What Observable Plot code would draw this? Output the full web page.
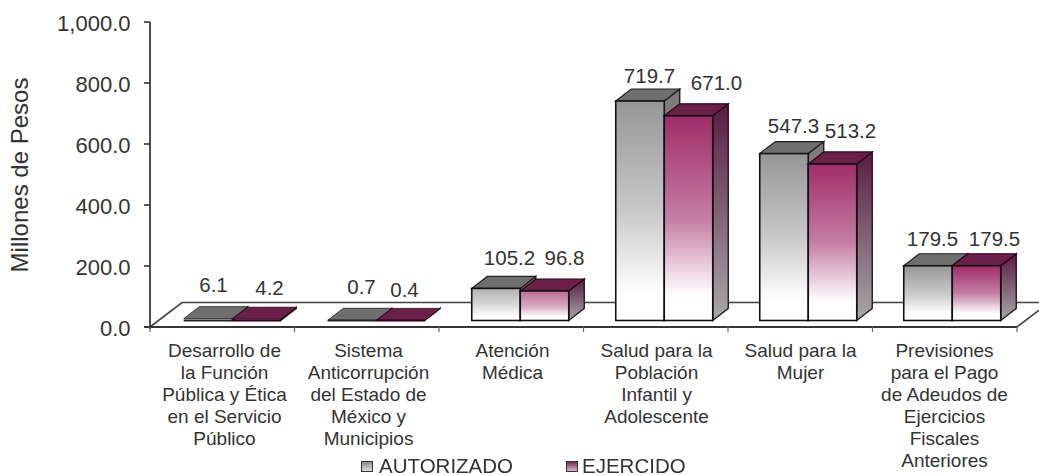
<!DOCTYPE html>
<html><head><meta charset="utf-8">
<script src="https://cdn.jsdelivr.net/npm/d3@7"></script>
<script src="https://cdn.jsdelivr.net/npm/@observablehq/plot@0.6"></script>
<style>
html,body{margin:0;padding:0;background:#fff;overflow:hidden}
#wrap{position:relative;width:1039px;height:475px;filter:blur(0.45px)}
#legend{position:absolute;left:0;top:456px;width:1039px;height:19px;font:20.5px "Liberation Sans",sans-serif;color:#333}
#legend span{position:absolute;top:0;line-height:19px}
#legend i{position:absolute;top:5px;width:10px;height:9px;border:1.5px solid #333}
</style></head><body>
<div id="wrap">
<div id="chart"></div>
<div id="legend">
<i style="left:361px;background:linear-gradient(#8a8a8a,#ddd)"></i><span style="left:379px">AUTORIZADO</span>
<i style="left:566px;background:linear-gradient(#7a2a55,#d8b8c8)"></i><span style="left:582px">EJERCIDO</span>
</div>
</div>
<script>
const categories = [
  "Desarrollo de\nla Función\nPública y Ética\nen el Servicio\nPúblico",
  "Sistema\nAnticorrupción\ndel Estado de\nMéxico y\nMunicipios",
  "Atención\nMédica",
  "Salud para la\nPoblación\nInfantil y\nAdolescente",
  "Salud para la\nMujer",
  "Previsiones\npara el Pago\nde Adeudos de\nEjercicios\nFiscales\nAnteriores"
];
const autorizado = [6.1, 0.7, 105.2, 719.7, 547.3, 179.5];
const ejercido = [4.2, 0.4, 96.8, 671.0, 513.2, 179.5];
const yTicks = [0, 200, 400, 600, 800, 1000];

const rows = [
  ...categories.map((category, i) => ({category, series: 0, value: autorizado[i]})),
  ...categories.map((category, i) => ({category, series: 1, value: ejercido[i]}))
];
// label nudges in pixels, per bar, relative to the band centre and the value's y
const nudge = [[-11,-40],[-7,-40],[-3,-37],[-7,-32],[-7,-34],[-12,-33],
               [45,-38],[36,-37],[52,-39.5],[60,-39],[50,-39.5],[50,-33]];

const M = {left:150, right:22, top:22, bottom:148};
const barW = 48.5, dep = [15.5,-12], inset = [8,-6.5], floorDep = [32,-24.5];
const tones = [
  {top:"#6f6f6f", line:"#111", topLine:"#222", front:[150,150,150], mid:0.52, sideTop:"#7a7a7a", sideBot:"#a9a9a9"},
  {top:"#6a2048", line:"#111", topLine:"#2b0018", front:[160,45,105], mid:0.62, sideTop:"#5a1c44", sideBot:"#a8a8a8"}
];

function floorRender(index, scales, values, dim) {
  const y0 = scales.y(0), L = dim.marginLeft, R = dim.width - dim.marginRight;
  const bw = (R - L) / categories.length;
  const g = d3.create("svg:g").attr("fill","none").attr("stroke","#333").attr("stroke-width",1.6);
  g.append("path").attr("stroke","#444").attr("fill","#fff")
    .attr("d",`M${L},${y0}L${L+floorDep[0]},${y0+floorDep[1]}L${R+floorDep[0]},${y0+floorDep[1]}L${R},${y0}Z`);
  g.append("path").attr("stroke","#222").attr("d",`M${L},${scales.y(1000)}V${y0+2}M${L-6},${y0}H${R}`);
  for (const t of yTicks) g.append("path").attr("d",`M${L-6},${scales.y(t)}H${L}`);
  for (let i=0;i<=categories.length;i++) g.append("path").attr("stroke-width",1.2).attr("stroke","#666").attr("d",`M${L+i*bw},${y0}v5`);
  return g.node();
}

function barRender(index, scales, values, dim) {
  const bw = (dim.width - dim.marginLeft - dim.marginRight) / categories.length;
  const g = d3.create("svg:g");
  const defs = g.append("defs");
  const y0 = scales.y(0) + inset[1];
  for (const i of index) {
    const d = rows[i], t = tones[d.series];
    const x0 = scales.x(d.category) + bw/2 + inset[0] - barW + d.series*barW;
    const yT = scales.y(d.value) + inset[1];
    const h = y0 - yT;
    const k = Math.min(1, 0.3 + h/75);
    const tint = f => t.front.map(c => Math.round(255 + (c-255)*k*f));
    const fid = `f${i}`, sid = `s${i}`;
    const fg = defs.append("linearGradient").attr("id",fid).attr("x1",0).attr("x2",0).attr("y1",0).attr("y2",1);
    fg.append("stop").attr("offset","0").attr("stop-color",`rgb(${tint(1)})`);
    fg.append("stop").attr("offset","0.5").attr("stop-color",`rgb(${tint(t.mid)})`);
    fg.append("stop").attr("offset","0.88").attr("stop-color","#fff");
    const sg = defs.append("linearGradient").attr("id",sid).attr("x1",0).attr("x2",0).attr("y1",0).attr("y2",1);
    sg.append("stop").attr("offset","0").attr("stop-color",t.sideTop);
    sg.append("stop").attr("offset","1").attr("stop-color",t.sideBot);
    const [dx,dy] = dep;
    const flat = h < 6;
    g.append("path").attr("fill",`url(#${sid})`).attr("stroke",t.line).attr("stroke-width",1.3)
      .attr("d",`M${x0+barW},${yT}l${dx},${dy}V${y0+dy}L${x0+barW},${y0}Z`);
    g.append("path").attr("fill",t.top).attr("stroke",t.topLine).attr("stroke-width",flat?0.8:1.2)
      .attr("d",`M${x0},${yT}l${dx},${dy}h${barW}l${-dx},${-dy}Z`);
    if (!flat) g.append("rect").attr("x",x0).attr("y",yT).attr("width",barW).attr("height",h)
      .attr("fill",`url(#${fid})`).attr("stroke",t.line).attr("stroke-width",1.6);
    else g.append("path").attr("stroke",t.topLine).attr("stroke-width",2.2).attr("d",`M${x0},${y0}h${barW}`);
  }
  return g.node();
}

const textFill = "#333";
const chart = Plot.plot({
  width: 1039, height: 475,
  marginLeft: M.left, marginRight: M.right, marginTop: M.top, marginBottom: M.bottom,
  style: {fontFamily: '"Liberation Sans", sans-serif', background: "#fff"},
  x: {type:"band", domain: categories, padding: 0, label: null},
  y: {domain: [0, 1000], label: null},
  marks: [
    Plot.ruleY([0], {render: floorRender}),
    Plot.barY(rows, {x:"category", y:"value", render: barRender}),
    Plot.axisY({ticks: yTicks, tickFormat: d3.format(",.1f"), tickSize: 0, tickPadding: 20, dy: 1, fontSize: 22, fill: textFill, label: null}),
    Plot.text(["Millones de Pesos"], {frameAnchor: "left", textAnchor: "middle", rotate: -90, dx: -130, fontSize: 24, fill: textFill}),
    Plot.axisX({tickSize: 0, tickPadding: 14, fontSize: 19, lineHeight: 1.16, fill: textFill, textOverflow: null, lineWidth: Infinity, label: null}),
    ...rows.map((d, i) => Plot.text([d], {x:"category", y:"value", text: r => r.value.toFixed(1),
      dx: nudge[i][0], dy: nudge[i][1], fontSize: 20.5, fill: textFill}))
  ]
});
document.getElementById("chart").appendChild(chart);
</script>
</body></html>
